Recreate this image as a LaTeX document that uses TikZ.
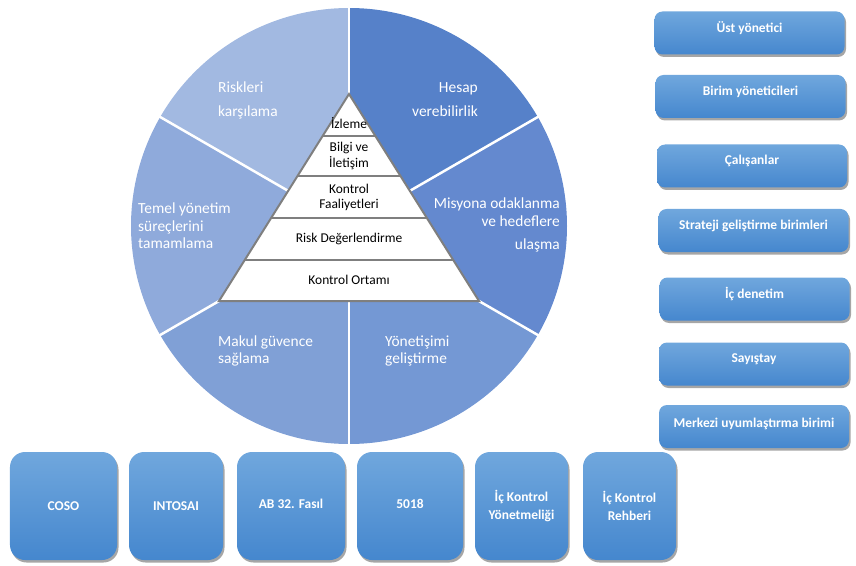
\documentclass[tikz,border=0pt]{standalone}
\usepackage{fontspec}
\setmainfont{Carlito}
\usetikzlibrary{shadows,calc}
\definecolor{sA}{HTML}{A2B9E1}
\definecolor{sB}{HTML}{5681C9}
\definecolor{sC}{HTML}{6489CF}
\definecolor{sD}{HTML}{7498D4}
\definecolor{sE}{HTML}{80A0D6}
\definecolor{sF}{HTML}{8FAADB}
\definecolor{boxtop}{HTML}{70A7DD}
\definecolor{boxbot}{HTML}{4587CE}
\definecolor{trigray}{HTML}{7F7F7F}
\begin{document}
\begin{tikzpicture}[x=1bp,y=1bp,
  pietext/.style={text=white,inner sep=0pt,font=\fontsize{15.5}{17.5}\selectfont},
  tritext/.style={text=black,inner sep=0pt,align=center,font=\fontsize{13.5}{15.5}\selectfont},
  bluebox/.style={draw=none,top color=boxtop,bottom color=boxbot,
    drop shadow={shadow xshift=1.5bp,shadow yshift=-2.5bp,fill=black,opacity=0.35},
    inner sep=0pt},
  rbox/.style={bluebox,rounded corners=8bp,minimum width=190bp,minimum height=43bp},
  bbox/.style={bluebox,rounded corners=15bp,minimum height=108bp},
  boxtext/.style={text=white,inner sep=0pt,align=center,font=\fontsize{13.5}{18}\selectfont\bfseries}]
\useasboundingbox (0,0) rectangle (856,-566);
% pie
\coordinate (pc) at (349,-226);
\def\R{218}
\fill[sB] (pc) -- ++(90:\R) arc[start angle=90,end angle=30,radius=\R] -- cycle;
\fill[sC] (pc) -- ++(30:\R) arc[start angle=30,end angle=-30,radius=\R] -- cycle;
\fill[sD] (pc) -- ++(-30:\R) arc[start angle=-30,end angle=-90,radius=\R] -- cycle;
\fill[sE] (pc) -- ++(-90:\R) arc[start angle=-90,end angle=-150,radius=\R] -- cycle;
\fill[sF] (pc) -- ++(-150:\R) arc[start angle=-150,end angle=-210,radius=\R] -- cycle;
\fill[sA] (pc) -- ++(150:\R) arc[start angle=150,end angle=90,radius=\R] -- cycle;
\foreach \a in {30,90,150,210,270,330}
  \draw[white,line width=2.5bp] (pc) -- ++(\a:\R+1);
% pie labels
\node[pietext,anchor=west,align=left] (lA) at (218,-100) {Riskleri\\[6.5bp]karşılama};
\node[pietext,anchor=east,align=right] (lB) at (478,-100) {Hesap\\[6.5bp]verebilirlik};
\node[pietext,anchor=east,align=right] (lC) at (560,-225) {Misyona odaklanma\\ve hedeflere\\[6bp]ulaşma};
\node[pietext,anchor=west,align=left] (lF) at (138,-226) {Temel yönetim\\süreçlerini\\tamamlama};
\node[pietext,anchor=west,align=left] (lE) at (218,-351) {Makul güvence\\sağlama};
\node[pietext,anchor=west,align=left] (lD) at (385,-351) {Yönetişimi\\geliştirme};
% pyramid
\coordinate (tA) at (349,-94);
\coordinate (tL) at (219,-301);
\coordinate (tR) at (479,-301);
\fill[white] (tA) -- (tL) -- (tR) -- cycle;
\foreach \t in {0.203,0.396,0.599,0.802}
  \draw[trigray,line width=2bp] ($(tA)!\t!(tL)$) -- ($(tA)!\t!(tR)$);
\draw[trigray,line width=2bp,line join=miter] (tA) -- (tL) -- (tR) -- cycle;
\node[tritext] (p1) at (349,-123) {İzleme};
\node[tritext] (p2) at (349,-156) {Bilgi ve\\İletişim};
\node[tritext] (p3) at (349,-197.5) {Kontrol\\Faaliyetleri};
\node[tritext] (p4) at (349,-239) {Risk Değerlendirme};
\node[tritext] (p5) at (349,-280) {Kontrol Ortamı};
% right boxes
\node[rbox] (r1) at (749.5,-33) {};
\node[rbox] (r2) at (750.5,-96.5) {};
\node[rbox] (r3) at (752,-166) {};
\node[rbox] (r4) at (753.5,-230.5) {};
\node[rbox] (r5) at (754.5,-299) {};
\node[rbox] (r6) at (754,-364) {};
\node[rbox] (r7) at (754,-426.5) {};
\node[boxtext] (t1) at ([yshift=-16.5bp]r1.north) {Üst yönetici};
\node[boxtext] (t2) at ([yshift=-17bp]r2.north) {Birim yöneticileri};
\node[boxtext] (t3) at ([yshift=-17bp]r3.north) {Çalışanlar};
\node[boxtext] (t4) at ([yshift=-17bp]r4.north) {Strateji geliştirme birimleri};
\node[boxtext] (t5) at ([yshift=-17bp]r5.north) {İç denetim};
\node[boxtext] (t6) at ([yshift=-17bp]r6.north) {Sayıştay};
\node[boxtext] (t7) at ([yshift=-19bp]r7.north) {Merkezi uyumlaştırma birimi};
% bottom boxes
\node[bbox,minimum width=107bp] (b1) at (63.5,-506) {};
\node[bbox,minimum width=94bp] (b2) at (176,-506) {};
\node[bbox,minimum width=108bp] (b3) at (291,-506) {};
\node[bbox,minimum width=106bp] (b4) at (410,-506) {};
\node[bbox,minimum width=93bp] (b5) at (521.5,-506) {};
\node[bbox,minimum width=93bp] (b6) at (629.5,-506) {};
\node[boxtext] (u1) at (b1) {COSO};
\node[boxtext] (u2) at (b2) {INTOSAI};
\node[boxtext] (u3) at ([yshift=2bp]b3.center) {AB 32. Fasıl};
\node[boxtext] (u4) at ([yshift=2bp]b4.center) {5018};
\node[boxtext] (u5) at (b5) {İç Kontrol\\Yönetmeliği};
\node[boxtext] (u6) at (b6) {İç Kontrol\\Rehberi};
\end{tikzpicture}
\end{document}
